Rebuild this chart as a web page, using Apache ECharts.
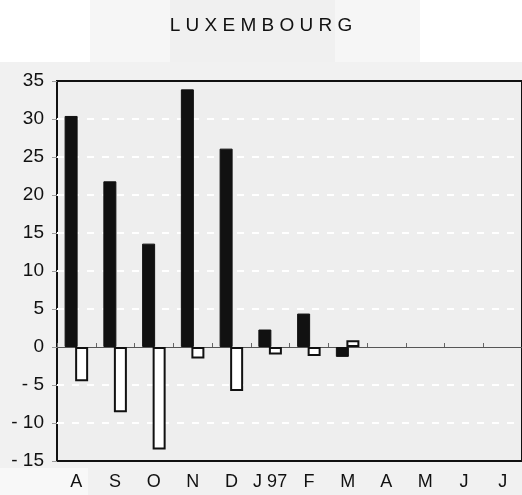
<!DOCTYPE html>
<html>
<head>
<meta charset="utf-8">
<script src="https://cdn.jsdelivr.net/npm/echarts@6/dist/echarts.min.js"></script>
<style>
  html, body { margin: 0; padding: 0; background: #ffffff; }
  #chart { width: 522px; height: 495px; }
</style>
</head>
<body>
<div id="chart"></div>
<script>
// Monthly categories, Aug 1996 to Jul 1997
const months = ['A', 'S', 'O', 'N', 'D', 'J 97', 'F', 'M', 'A', 'M', 'J', 'J'];
// Dark series values
const darkValues = [30.4, 21.8, 13.6, 33.9, 26.1, 2.3, 4.4, -1.3, null, null, null, null];
// Open (white) series values
const openValues = [-4.5, -8.6, -13.5, -1.5, -5.8, -1.0, -1.2, 0.9, null, null, null, null];
// Value axis range
const yMin = -15, yMax = 35, yStep = 5;

const chart = echarts.init(document.getElementById('chart'), null, { renderer: 'canvas' });

const FONT = 'Liberation Sans, Arial, sans-serif';

chart.setOption({
  backgroundColor: '#ffffff',
  animation: false,
  graphic: [
    { type: 'rect', z: -10, shape: { x: 90, y: 0, width: 330, height: 62 }, style: { fill: '#f6f6f6' } },
    { type: 'rect', z: -10, shape: { x: 170, y: 0, width: 165, height: 62 }, style: { fill: '#f0f0f0' } },
    { type: 'rect', z: -10, shape: { x: 0, y: 62, width: 522, height: 433 }, style: { fill: '#f1f1f1' } },
    { type: 'rect', z: -10, shape: { x: 0, y: 468, width: 88, height: 27 }, style: { fill: '#f8f8f8' } }
  ],
  title: {
    text: 'L U X E M B O U R G',
    left: 'center',
    top: 11,
    textStyle: { fontFamily: FONT, fontSize: 19, fontWeight: 'normal', color: '#111111' }
  },
  grid: {
    left: 57, top: 81, width: 465, height: 380,
    show: true,
    backgroundColor: '#eeeeee',
    borderColor: '#111111',
    borderWidth: 2
  },
  xAxis: [
    {
      type: 'category',
      data: months,
      position: 'bottom',
      axisLine: { show: false, onZero: false },
      axisTick: { show: false },
      axisLabel: { fontFamily: FONT, fontSize: 18, color: '#111111', margin: 12, interval: 0 },
      splitLine: { show: false }
    },
    {
      type: 'category',
      data: months,
      position: 'bottom',
      axisLine: { show: true, onZero: true, lineStyle: { color: '#555555', width: 1 } },
      axisTick: { show: true, length: 4, inside: true, lineStyle: { color: '#666666' } },
      axisLabel: { show: false },
      splitLine: { show: false }
    }
  ],
  yAxis: {
    type: 'value',
    min: yMin, max: yMax, interval: yStep,
    axisLine: { show: false },
    axisTick: { show: true, length: 5, lineStyle: { color: '#999999' } },
    axisLabel: {
      fontFamily: FONT, fontSize: 19, color: '#111111', margin: 13,
      formatter: v => (v < 0 ? '- ' + Math.abs(v) : String(v))
    },
    splitLine: {
      show: true,
      lineStyle: {
        color: ['transparent', '#ffffff', '#ffffff', 'transparent', '#ffffff', '#ffffff', '#ffffff', '#ffffff', '#ffffff', '#ffffff', 'transparent'],
        width: 2,
        type: [7, 8]
      }
    }
  },
  series: [
    {
      type: 'bar',
      xAxisIndex: 0,
      data: darkValues,
      barWidth: 13,
      barGap: '-19%',
      itemStyle: { color: '#111111', borderColor: '#111111', borderWidth: 1 },
      z: 3
    },
    {
      type: 'bar',
      xAxisIndex: 0,
      data: openValues,
      barWidth: 13,
      itemStyle: { color: '#ffffff', borderColor: '#111111', borderWidth: 2 },
      z: 2
    }
  ]
});
</script>
</body>
</html>
